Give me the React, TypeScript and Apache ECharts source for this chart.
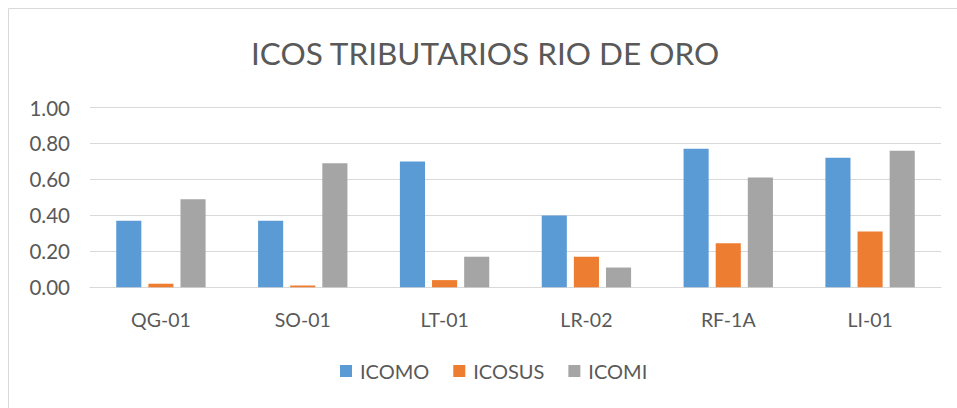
import React, { useEffect, useRef } from "react";
import * as echarts from "echarts";

const categories = ["QG-01", "SO-01", "LT-01", "LR-02", "RF-1A", "LI-01"];
const icomo = [0.37, 0.37, 0.70, 0.40, 0.77, 0.72];
const icosus = [0.02, 0.01, 0.04, 0.17, 0.245, 0.31];
const icomi = [0.49, 0.69, 0.17, 0.11, 0.61, 0.76];
const seriesNames = ["ICOMO", "ICOSUS", "ICOMI"];
const colors = ["#5B9BD5", "#ED7D31", "#A5A5A5"];
const titleText = "ICOS TRIBUTARIOS RIO DE ORO";

const FONT = "Lato, 'Open Sans', sans-serif";

export default function App() {
  const ref = useRef<HTMLDivElement>(null);
  useEffect(() => {
    if (!ref.current) return;
    const chart = echarts.init(ref.current, undefined, { renderer: "svg" });
    const data = [icomo, icosus, icomi];
    chart.setOption({
      animation: false,
      textStyle: { fontFamily: FONT },
      title: {
        text: titleText,
        left: 246,
        top: 32,
        textStyle: { fontFamily: FONT, fontSize: 31.5, fontWeight: "normal", color: "#595959" },
      },
      graphic: [
        {
          type: "rect",
          shape: { x: 8.5, y: 8.5, width: 1000, height: 1000 },
          style: { fill: "none", stroke: "#D9D9D9", lineWidth: 1 },
          silent: true,
        },
      ],
      legend: {
        bottom: 22,
        left: 335,
        itemWidth: 12,
        itemHeight: 12,
        itemGap: 24,
        icon: "rect",
        textStyle: { fontFamily: FONT, fontSize: 20, color: "#595959", padding: [0, 0, 0, 3] },
        data: seriesNames,
      },
      grid: { left: 90, right: 16, top: 107.5, bottom: 120.7 },
      xAxis: {
        type: "category",
        data: categories,
        axisLine: { show: true, lineStyle: { color: "#D9D9D9" } },
        axisTick: { show: false },
        axisLabel: { fontFamily: FONT, fontSize: 19.5, color: "#595959", margin: 22 },
      },
      yAxis: {
        type: "value",
        min: 0,
        max: 1,
        interval: 0.2,
        axisLine: { show: false },
        axisTick: { show: false },
        splitLine: { lineStyle: { color: "#D9D9D9" } },
        axisLabel: {
          fontFamily: FONT,
          fontSize: 20.5,
          color: "#595959",
          margin: 20,
          formatter: (v: number) => v.toFixed(2),
        },
      },
      series: seriesNames.map((name, i) => ({
        name,
        type: "bar",
        data: data[i],
        itemStyle: { color: colors[i] },
        barGap: "28%",
        barCategoryGap: "37%",
      })),
    });
    return () => chart.dispose();
  }, []);
  return (
    <div
      ref={ref}
      style={{ position: "fixed", left: 0, top: 0, width: 957, height: 408, background: "#fff" }}
    />
  );
}
